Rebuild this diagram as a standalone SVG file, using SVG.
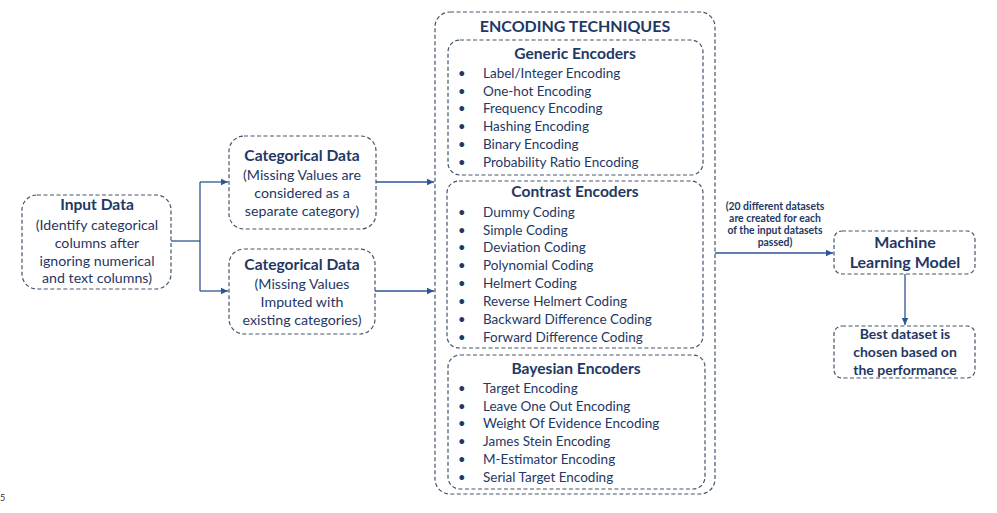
<svg xmlns="http://www.w3.org/2000/svg" width="997" height="513" viewBox="0 0 997 513">
  <defs>
    <marker id="arrow" markerWidth="8" markerHeight="8" refX="7" refY="4" orient="auto" markerUnits="userSpaceOnUse">
      <path d="M0,0.8 L7,4 L0,7.2 Z" fill="#2E5597"/>
    </marker>
    <style>
      text { font-family: Lato, "Open Sans", "Liberation Sans", sans-serif; fill: #1F3864; }
      .box { fill: #ffffff; stroke: #44546A; stroke-width: 1.2; stroke-dasharray: 4 2.5; }
      .title { font-weight: bold; font-size: 15.6px; text-anchor: middle; }
      .body { font-size: 14.2px; text-anchor: middle; }
      .item { font-size: 13.5px; }
      .bullet { font-size: 13px; }
      .note { font-weight: bold; font-size: 10.4px; text-anchor: middle; }
      .link { fill: none; stroke: #2E5597; stroke-width: 1.3; }
    </style>
  </defs>
  <rect width="997" height="513" fill="#ffffff"/>

  <!-- connectors -->
  <g id="connectors">
    <polyline class="link" points="171,241 200,241"/>
    <polyline class="link" points="200,182 200,291"/>
    <polyline class="link" points="200,182 228,182" marker-end="url(#arrow)"/>
    <polyline class="link" points="200,291 228,291" marker-end="url(#arrow)"/>
    <polyline class="link" points="376,182 434,182" marker-end="url(#arrow)"/>
    <polyline class="link" points="375,291 434,291" marker-end="url(#arrow)"/>
    <polyline class="link" points="715,253 833,253" marker-end="url(#arrow)"/>
    <polyline class="link" points="905,274 905,325" marker-end="url(#arrow)"/>
  </g>

  <g id="input-data">
    <rect class="box" x="22" y="195" width="149" height="94" rx="15"/>
    <text class="title" x="97" y="210">Input Data</text>
    <text class="body" x="97" y="230">(Identify categorical</text>
    <text class="body" x="97" y="248">columns after</text>
    <text class="body" x="97" y="266">ignoring numerical</text>
    <text class="body" x="97" y="283">and text columns)</text>
  </g>

  <g id="categorical-separate">
    <rect class="box" x="229" y="136" width="147" height="93" rx="15"/>
    <text class="title" x="302" y="161">Categorical Data</text>
    <text class="body" x="302" y="180">(Missing Values are</text>
    <text class="body" x="302" y="198">considered as a</text>
    <text class="body" x="302" y="216">separate category)</text>
  </g>

  <g id="categorical-imputed">
    <rect class="box" x="229" y="249" width="146" height="85" rx="15"/>
    <text class="title" x="302" y="270">Categorical Data</text>
    <text class="body" x="302" y="289">(Missing Values</text>
    <text class="body" x="302" y="307">Imputed with</text>
    <text class="body" x="302" y="325">existing categories)</text>
  </g>

  <g id="encoding-techniques">
    <rect class="box" x="435" y="12" width="280" height="482" rx="15"/>
    <text x="575" y="32" style="font-weight:bold;font-size:16px;text-anchor:middle">ENCODING TECHNIQUES</text>
  </g>

  <g id="generic-encoders">
    <rect class="box" x="448" y="40" width="255" height="135" rx="12"/>
    <text class="title" x="575" y="59">Generic Encoders</text>
    <g class="bullet">
      <text x="458" y="78">•</text><text x="458" y="96">•</text><text x="458" y="113">•</text>
      <text x="458" y="131">•</text><text x="458" y="149">•</text><text x="458" y="167">•</text>
    </g>
    <g class="item">
      <text x="483" y="78">Label/Integer Encoding</text>
      <text x="483" y="96">One-hot Encoding</text>
      <text x="483" y="113">Frequency Encoding</text>
      <text x="483" y="131">Hashing Encoding</text>
      <text x="483" y="149">Binary Encoding</text>
      <text x="483" y="167">Probability Ratio Encoding</text>
    </g>
  </g>

  <g id="contrast-encoders">
    <rect class="box" x="447" y="181" width="256" height="167" rx="12"/>
    <text class="title" x="575" y="197">Contrast Encoders</text>
    <g class="bullet">
      <text x="458" y="217">•</text><text x="458" y="235">•</text><text x="458" y="252">•</text>
      <text x="458" y="270">•</text><text x="458" y="288">•</text><text x="458" y="306">•</text>
      <text x="458" y="324">•</text><text x="458" y="342">•</text>
    </g>
    <g class="item">
      <text x="483" y="217">Dummy Coding</text>
      <text x="483" y="235">Simple Coding</text>
      <text x="483" y="252">Deviation Coding</text>
      <text x="483" y="270">Polynomial Coding</text>
      <text x="483" y="288">Helmert Coding</text>
      <text x="483" y="306">Reverse Helmert Coding</text>
      <text x="483" y="324">Backward Difference Coding</text>
      <text x="483" y="342">Forward Difference Coding</text>
    </g>
  </g>

  <g id="bayesian-encoders">
    <rect class="box" x="448" y="355" width="257" height="134" rx="12"/>
    <text class="title" x="576" y="374">Bayesian Encoders</text>
    <g class="bullet">
      <text x="458" y="393">•</text><text x="458" y="411">•</text><text x="458" y="428">•</text>
      <text x="458" y="446">•</text><text x="458" y="464">•</text><text x="458" y="482">•</text>
    </g>
    <g class="item">
      <text x="483" y="393">Target Encoding</text>
      <text x="483" y="411">Leave One Out Encoding</text>
      <text x="483" y="428">Weight Of Evidence Encoding</text>
      <text x="483" y="446">James Stein Encoding</text>
      <text x="483" y="464">M-Estimator Encoding</text>
      <text x="483" y="482">Serial Target Encoding</text>
    </g>
  </g>

  <g id="dataset-note">
    <text class="note" x="775" y="210">(20 different datasets</text>
    <text class="note" x="775" y="222">are created for each</text>
    <text class="note" x="775" y="234">of the input datasets</text>
    <text class="note" x="775" y="246">passed)</text>
  </g>

  <g id="ml-model">
    <rect class="box" x="834" y="231" width="141" height="43" rx="8"/>
    <text x="905" y="248" style="font-weight:bold;font-size:16px;text-anchor:middle">Machine</text>
    <text x="905" y="268" style="font-weight:bold;font-size:16px;text-anchor:middle">Learning Model</text>
  </g>

  <g id="best-dataset">
    <rect class="box" x="834" y="326" width="141" height="52" rx="8"/>
    <text x="905" y="339" style="font-weight:bold;font-size:14px;text-anchor:middle">Best dataset is</text>
    <text x="905" y="357" style="font-weight:bold;font-size:14px;text-anchor:middle">chosen based on</text>
    <text x="905" y="375" style="font-weight:bold;font-size:14px;text-anchor:middle">the performance</text>
  </g>

  <text x="0" y="501" style="font-size:9px;fill:#333333">5</text>
</svg>
